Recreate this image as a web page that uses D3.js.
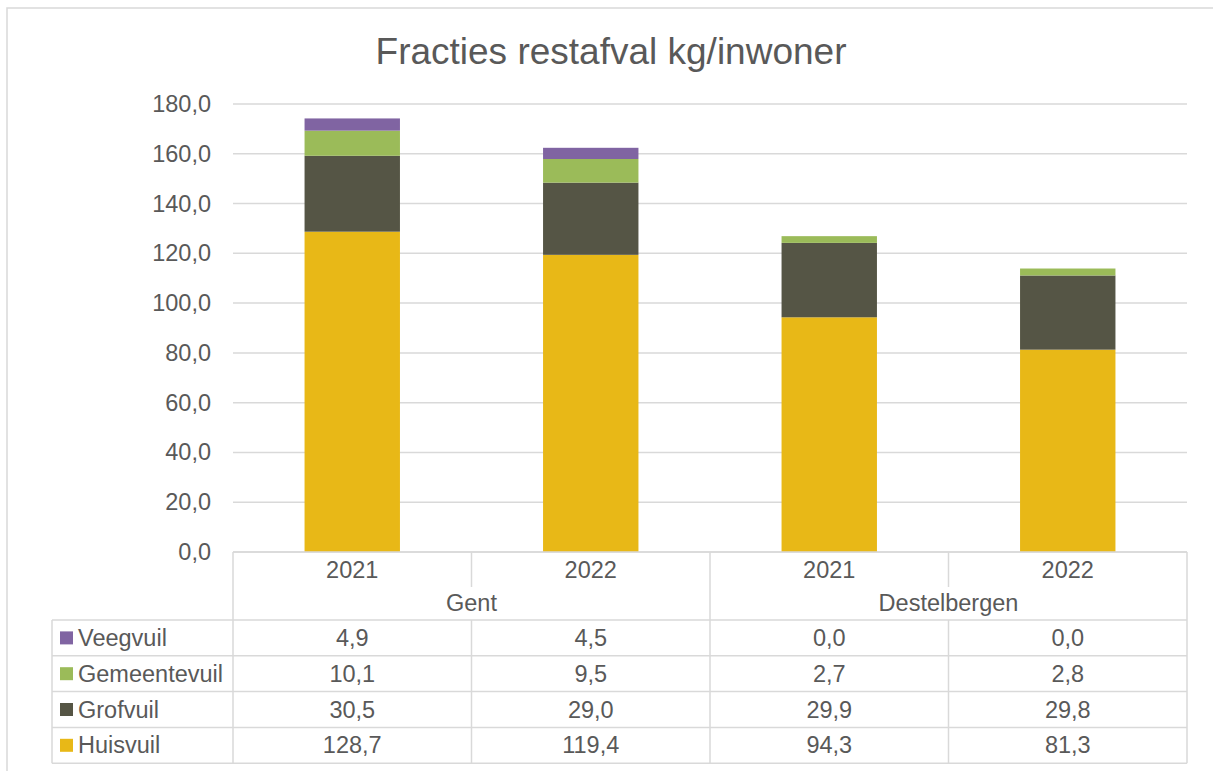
<!DOCTYPE html>
<html>
<head>
<meta charset="utf-8">
<script src="https://cdnjs.cloudflare.com/ajax/libs/d3/7.8.5/d3.min.js"></script>
<style>
  body { margin: 0; background: #fff; }
  svg { font-family: "Liberation Sans", Arial, sans-serif; }
</style>
</head>
<body>
<script>
// chart data
var groups = ["Gent", "Destelbergen"];
var years = ["2021", "2022"];
var series = ["Huisvuil", "Grofvuil", "Gemeentevuil", "Veegvuil"];
var huisvuil = [128.7, 119.4, 94.3, 81.3];
var grofvuil = [30.5, 29.0, 29.9, 29.8];
var gemeentevuil = [10.1, 9.5, 2.7, 2.8];
var veegvuil = [4.9, 4.5, 0.0, 0.0];
var yTicks = [0, 20, 40, 60, 80, 100, 120, 140, 160, 180];
var colors = ["#E8B817", "#555545", "#9BBB59", "#8064A2"];

var values = [huisvuil, grofvuil, gemeentevuil, veegvuil];
var cats = [];
groups.forEach(function (g) { years.forEach(function (y) { cats.push(g + "|" + y); }); });

var W = 1213, H = 771;
var plotLeft = 233, plotRight = 1187, plotTop = 104, plotBottom = 552;
var rowH = 35.8, tableTop = 620, legendLeft = 52;
var textCol = "#595959", lineCol = "#d9d9d9";
var fs = 23.5;
var fmt = function (v) { return v.toFixed(1).replace(".", ","); };

var svg = d3.select("body").append("svg")
    .attr("width", W)
    .attr("height", H);

// outer border
svg.append("rect")
    .attr("x", 7).attr("y", 8)
    .attr("width", W + 20).attr("height", H + 20)
    .attr("fill", "none").attr("stroke", lineCol).attr("stroke-width", 1.5);

svg.append("text")
    .attr("x", 611).attr("y", 64)
    .attr("text-anchor", "middle")
    .attr("font-size", 37)
    .attr("fill", textCol)
    .text("Fracties restafval kg/inwoner");

var y = d3.scaleLinear().domain([0, 180]).range([plotBottom, plotTop]);
var xCell = d3.scaleBand().domain(cats).range([plotLeft, plotRight]).padding(0);
var xBar = d3.scaleBand().domain(cats).range([plotLeft, plotRight]).paddingInner(0.6).paddingOuter(0.3);
var xGroup = d3.scaleBand().domain(groups).range([plotLeft, plotRight]).padding(0);

// gridlines
svg.append("g").selectAll("line")
    .data(yTicks)
    .enter().append("line")
    .attr("x1", plotLeft).attr("x2", plotRight)
    .attr("y1", y).attr("y2", y)
    .attr("stroke", lineCol).attr("stroke-width", 1.5);

// y axis
var yAxis = d3.axisLeft(y).tickValues(yTicks).tickSize(0).tickPadding(22).tickFormat(fmt);
var ga = svg.append("g").attr("transform", "translate(" + plotLeft + ",0)").call(yAxis);
ga.select(".domain").remove();
ga.selectAll("text").attr("font-size", fs).attr("fill", textCol)
    .attr("font-family", "Liberation Sans, Arial, sans-serif");

// stacked bars
var stackData = cats.map(function (c, i) {
    var o = { cat: c };
    series.forEach(function (s, k) { o[s] = values[k][i]; });
    return o;
});
var stacked = d3.stack().keys(series)(stackData);

svg.append("g").selectAll("g")
    .data(stacked)
    .enter().append("g")
    .attr("fill", function (d, i) { return colors[i]; })
    .selectAll("rect")
    .data(function (d) { return d; })
    .enter().append("rect")
    .attr("x", function (d) { return xBar(d.data.cat); })
    .attr("width", xBar.bandwidth())
    .attr("y", function (d) { return y(d[1]); })
    .attr("height", function (d) { return y(d[0]) - y(d[1]); });

// data table
var tg = svg.append("g").attr("stroke", lineCol).attr("stroke-width", 1.5);
var tableBottom = tableTop + rowH * series.length;
var yearBottom = 587;

tg.append("line").attr("x1", plotLeft).attr("x2", plotRight).attr("y1", plotBottom).attr("y2", plotBottom);
d3.range(series.length + 1).forEach(function (r) {
    tg.append("line")
        .attr("x1", legendLeft).attr("x2", plotRight)
        .attr("y1", tableTop + r * rowH).attr("y2", tableTop + r * rowH);
});
tg.append("line").attr("x1", legendLeft).attr("x2", legendLeft).attr("y1", tableTop).attr("y2", tableBottom);
cats.forEach(function (c, i) {
    var xx = xCell(c);
    if (i % years.length === 0) {
        tg.append("line").attr("x1", xx).attr("x2", xx).attr("y1", plotBottom).attr("y2", tableBottom);
    } else {
        tg.append("line").attr("x1", xx).attr("x2", xx).attr("y1", plotBottom).attr("y2", yearBottom);
        tg.append("line").attr("x1", xx).attr("x2", xx).attr("y1", tableTop).attr("y2", tableBottom);
    }
});
tg.append("line").attr("x1", plotRight).attr("x2", plotRight).attr("y1", plotBottom).attr("y2", tableBottom);

var txt = svg.append("g").attr("font-size", fs).attr("fill", textCol).attr("text-anchor", "middle");

// year labels
txt.selectAll(".yr")
    .data(cats)
    .enter().append("text")
    .attr("x", function (d) { return xCell(d) + xCell.bandwidth() / 2; })
    .attr("y", 578)
    .text(function (d) { return d.split("|")[1]; });

// group labels
txt.selectAll(".grp")
    .data(groups)
    .enter().append("text")
    .attr("x", function (d) { return xGroup(d) + xGroup.bandwidth() / 2; })
    .attr("y", 611)
    .text(function (d) { return d; });

// rows, Veegvuil on top
var rowOrder = series.slice().reverse();
rowOrder.forEach(function (s, r) {
    var k = series.indexOf(s);
    var cy = tableTop + r * rowH + rowH / 2;
    svg.append("rect")
        .attr("x", 60).attr("y", cy - 6.5)
        .attr("width", 13).attr("height", 13)
        .attr("fill", colors[k]);
    svg.append("text")
        .attr("x", 78).attr("y", cy + 8)
        .attr("font-size", fs).attr("fill", textCol)
        .text(s);
    txt.selectAll(null)
        .data(values[k])
        .enter().append("text")
        .attr("x", function (d, i) { return xCell(cats[i]) + xCell.bandwidth() / 2; })
        .attr("y", cy + 8)
        .text(fmt);
});
</script>
</body>
</html>
